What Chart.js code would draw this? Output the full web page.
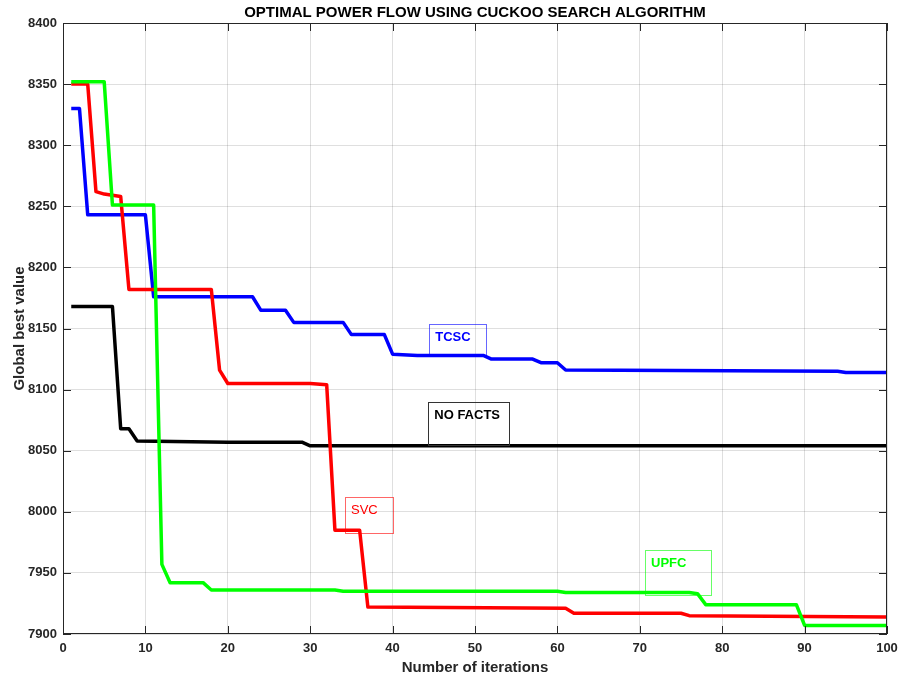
<!DOCTYPE html>
<html>
<head>
<meta charset="utf-8">
<script src="https://cdn.jsdelivr.net/npm/chart.js@4.4.1/dist/chart.umd.min.js"></script>
<style>
  html, body { margin: 0; padding: 0; background: #fff; }
  #wrap { width: 901px; height: 680px; }
</style>
</head>
<body>
<div id="wrap"><canvas id="opf" width="901" height="680"></canvas></div>
<script>
// iteration / best value at each change point
const noFactsX = [1, 6, 7, 8, 9, 20, 29, 30, 100];
const noFactsY = [8168, 8168, 8068, 8068, 8058, 8057, 8057, 8054, 8054];

const tcscX = [1, 2, 3, 10, 11, 23, 24, 27, 28, 34, 35, 39, 40, 43, 51, 52, 57, 58, 60, 61, 94, 95, 100];
const tcscY = [8330, 8330, 8243, 8243, 8176, 8176, 8165, 8165, 8155, 8155, 8145, 8145, 8129, 8128, 8128, 8125, 8125, 8122, 8122, 8116, 8115, 8114, 8114];

const svcX = [1, 3, 4, 5, 7, 8, 18, 19, 20, 30, 32, 33, 36, 37, 61, 62, 75, 76, 100];
const svcY = [8350, 8350, 8262, 8260, 8258, 8182, 8182, 8116, 8105, 8105, 8104, 7985, 7985, 7922, 7921, 7917, 7917, 7915, 7914];

const upfcX = [1, 5, 6, 11, 12, 13, 17, 18, 33, 34, 60, 61, 76, 77, 78, 89, 90, 100];
const upfcY = [8352, 8352, 8251, 8251, 7957, 7942, 7942, 7936, 7936, 7935, 7935, 7934, 7934, 7933, 7924, 7924, 7907, 7907];

const xTicks = [0, 10, 20, 30, 40, 50, 60, 70, 80, 90, 100];
const yTicks = [7900, 7950, 8000, 8050, 8100, 8150, 8200, 8250, 8300, 8350, 8400];

const FONT = "Arial, 'Liberation Sans', sans-serif";
const AXIS = '#262626';

// text boxes placed in data units: [x0, x1, yTop, yBottom]
const labels = [
  { text: 'TCSC', color: '#0000ff', border: 'rgba(0,0,255,0.6)', bold: true, box: [44.45, 51.33, 8153.4, 8127.5] },
  { text: 'NO FACTS', color: '#000000', border: '#333333', bold: true, box: [44.33, 54.16, 8089.6, 8054.7] },
  { text: 'SVC', color: '#ff0000', border: 'rgba(255,0,0,0.6)', bold: false, box: [34.22, 40.08, 8011.9, 7982.4] },
  { text: 'UPFC', color: '#00ff00', border: 'rgba(0,255,0,0.6)', bold: true, box: [70.63, 78.64, 7968.7, 7931.9] },
];

const pts = (xs, ys) => xs.map((x, i) => ({ x, y: ys[i] }));

const framePlugin = {
  id: 'frame',
  afterDatasetsDraw(chart) {
    const { ctx, chartArea: a, scales: { x, y } } = chart;
    ctx.save();

    // text boxes
    labels.forEach(l => {
      const x0 = x.getPixelForValue(l.box[0]), x1 = x.getPixelForValue(l.box[1]);
      const y0 = y.getPixelForValue(l.box[2]), y1 = y.getPixelForValue(l.box[3]);
      ctx.strokeStyle = l.border;
      ctx.lineWidth = 1;
      ctx.strokeRect(Math.round(x0) + 0.5, Math.round(y0) + 0.5, Math.round(x1 - x0), Math.round(y1 - y0));
      ctx.fillStyle = l.color;
      ctx.font = (l.bold ? 'bold ' : '') + '13px ' + FONT;
      ctx.textAlign = 'left';
      ctx.textBaseline = 'middle';
      ctx.fillText(l.text, x0 + 6, y0 + 13);
    });

    // box and inward ticks
    ctx.strokeStyle = AXIS;
    ctx.lineWidth = 1;
    ctx.strokeRect(a.left + 0.5, a.top + 0.5, a.width - 1, a.height - 1);
    ctx.beginPath();
    const TL = 8;
    xTicks.forEach(v => {
      const px = Math.round(x.getPixelForValue(v)) + 0.5;
      ctx.moveTo(px, a.bottom); ctx.lineTo(px, a.bottom - TL);
      ctx.moveTo(px, a.top); ctx.lineTo(px, a.top + TL);
    });
    yTicks.forEach(v => {
      const py = Math.round(y.getPixelForValue(v)) + 0.5;
      ctx.moveTo(a.left, py); ctx.lineTo(a.left + TL, py);
      ctx.moveTo(a.right, py); ctx.lineTo(a.right - TL, py);
    });
    ctx.stroke();

    // titles
    ctx.fillStyle = '#000';
    ctx.font = 'bold 15px ' + FONT;
    ctx.textAlign = 'center';
    ctx.textBaseline = 'middle';
    const cx = (a.left + a.right) / 2;
    ctx.fillText('OPTIMAL POWER FLOW USING CUCKOO SEARCH ALGORITHM', cx, 13);
    ctx.fillStyle = AXIS;
    ctx.fillText('Number of iterations', cx, 668);
    ctx.translate(20, (a.top + a.bottom) / 2);
    ctx.rotate(-Math.PI / 2);
    ctx.fillText('Global best value', 0, 0);
    ctx.restore();
  }
};

const line = (label, data, color, order) => ({
  label, data, order,
  borderColor: color,
  borderWidth: 3.5,
  pointRadius: 0,
  tension: 0,
  fill: false,
  borderJoinStyle: 'round',
});

new Chart(document.getElementById('opf'), {
  type: 'line',
  data: {
    datasets: [
      line('UPFC', pts(upfcX, upfcY), '#00ff00', 0),
      line('SVC', pts(svcX, svcY), '#ff0000', 1),
      line('TCSC', pts(tcscX, tcscY), '#0000ff', 2),
      line('NO FACTS', pts(noFactsX, noFactsY), '#000000', 3),
    ]
  },
  options: {
    responsive: false,
    animation: false,
    devicePixelRatio: 1,
    layout: { padding: { top: 23, right: 14, left: 0, bottom: 0 } },
    plugins: { legend: { display: false }, tooltip: { enabled: false }, title: { display: false } },
    scales: {
      x: {
        type: 'linear', min: 0, max: 100,
        afterFit: s => { s.height = 46; s.paddingLeft = 0; s.paddingRight = 0; },
        afterBuildTicks: s => { s.ticks = xTicks.map(value => ({ value })); },
        grid: { color: 'rgba(38,38,38,0.15)', drawTicks: false },
        border: { display: false },
        ticks: { padding: 7, color: AXIS, font: { family: FONT, size: 13, weight: 'bold' }, maxRotation: 0, callback: v => String(v) },
      },
      y: {
        type: 'linear', min: 7900, max: 8400,
        afterFit: s => { s.width = 63; s.paddingTop = 0; s.paddingBottom = 0; },
        afterBuildTicks: s => { s.ticks = yTicks.map(value => ({ value })); },
        grid: { color: 'rgba(38,38,38,0.15)', drawTicks: false },
        border: { display: false },
        ticks: { padding: 6, color: AXIS, font: { family: FONT, size: 13, weight: 'bold' }, callback: v => String(v) },
      }
    }
  },
  plugins: [framePlugin]
});
</script>
</body>
</html>
